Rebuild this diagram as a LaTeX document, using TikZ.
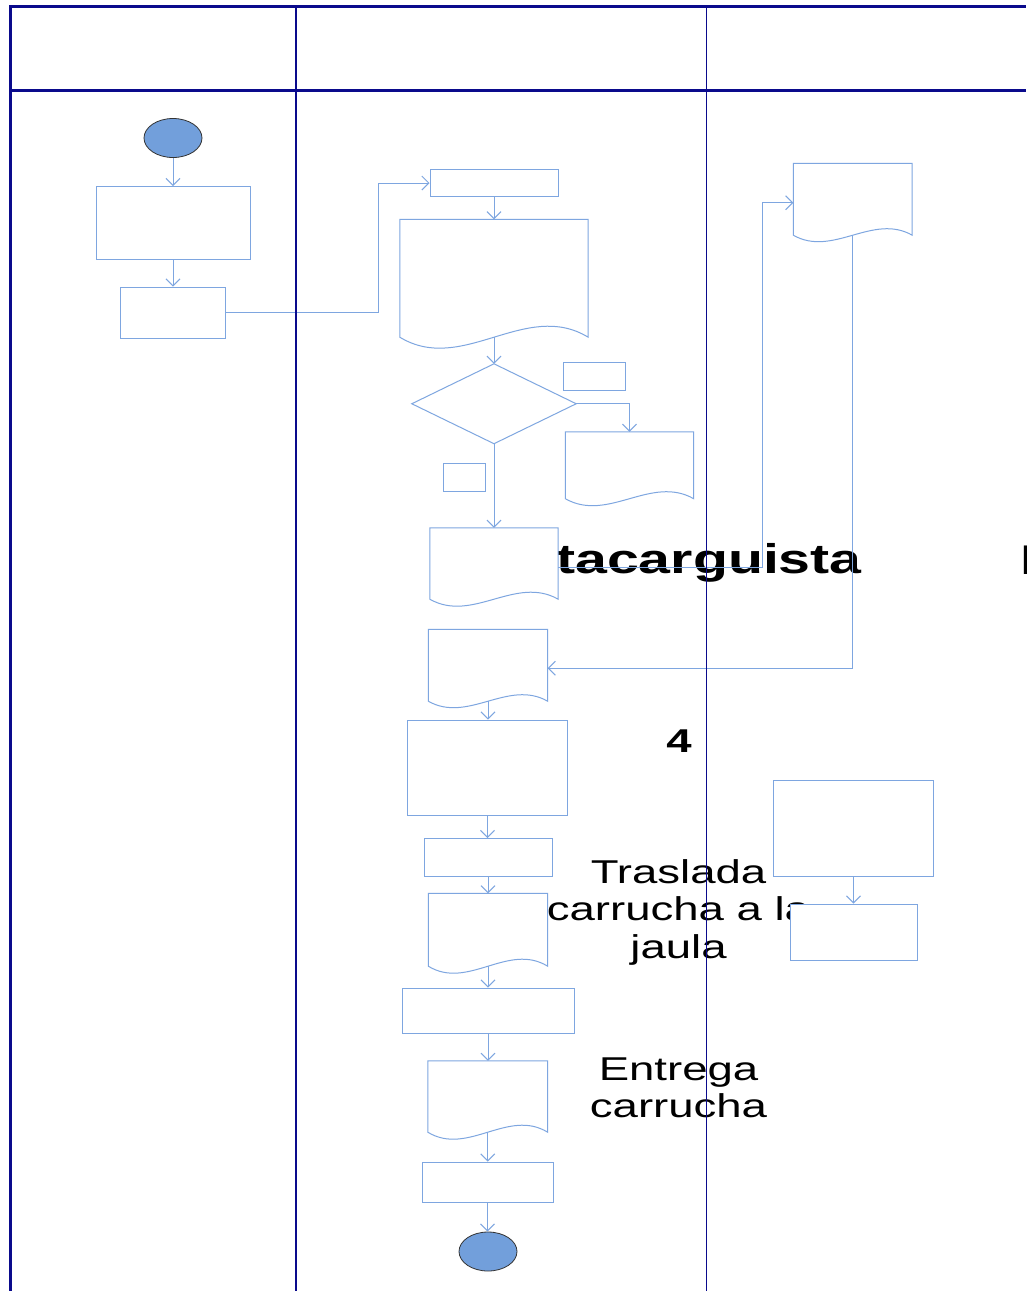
\documentclass[tikz,border=0pt]{standalone}
\usepackage{fontspec}
\setmainfont{Liberation Sans}
\usetikzlibrary{arrows.meta, shapes.geometric, fit, calc}
\definecolor{framec}{RGB}{10,10,140}
\definecolor{shp}{RGB}{126,166,224}
\definecolor{termc}{RGB}{114,159,219}
\tikzset{
  shapeline/.style={draw=shp, line width=1pt, fill=white},
  conn/.style={draw=shp, line width=1pt, -{Straight Barb[length=7pt,width=14pt]}},
  laneline/.style={draw=framec, line width=1.4pt},
  borderline/.style={draw=framec, line width=3pt, line join=miter},
  terminal/.style={ellipse, draw=black!80, line width=0.8pt, fill=termc, minimum width=58pt, minimum height=39pt, inner sep=0pt},
  txt/.style={inner sep=0pt},
  bigbold/.style={font=\fontsize{41.5}{45}\selectfont\bfseries},
  mid/.style={font=\fontsize{33}{37.5}\selectfont},
}
\newcommand\hs[1]{\scalebox{1.38}[1]{#1}}
\newcommand\boxnode[5]{%
  \coordinate (#1-a) at (#2,#3);
  \coordinate (#1-b) at (#4,#5);
  \node[fit=(#1-a)(#1-b), inner sep=0pt, shapeline] (#1) {};
}
\newcommand\docnode[6]{%
  \coordinate (#1-a) at (#2,#3);
  \coordinate (#1-b) at (#4,#5);
  \node[fit=(#1-a)(#1-b), inner sep=0pt] (#1) {};
  \pgfmathsetmacro\dw{(#4-#2)/3}%
  \pgfmathsetmacro\dk{3.46*#6}%
  \path[shapeline] (#1.north west) -- (#1.north east) -- (#1.south east)
     .. controls +(-\dw,-\dk) and +(\dw,\dk) .. (#1.south west) -- cycle;
}
\newcommand\decnode[5]{%
  \coordinate (#1-a) at (#2,#3);
  \coordinate (#1-b) at (#4,#5);
  \node[fit=(#1-a)(#1-b), inner sep=0pt] (#1) {};
  \path[shapeline] (#1.north) -- (#1.east) -- (#1.south) -- (#1.west) -- cycle;
}
\begin{document}
\begin{tikzpicture}[x=1pt,y=-1pt]
\path[use as bounding box] (0,0) rectangle (1026,1291);
\clip (0,0) rectangle (1026,1291);
\fill[white] (0,0) rectangle (1026,1291);

% texts (under the shapes and lane lines)
\node[txt, bigbold, anchor=base west] (tmonta) at (556,573) {\hs{tacarguista}};
\node[txt, bigbold, anchor=base west] (tedge) at (1020,574) {\hs{B}};
\node[txt, mid, anchor=base] (tfour) at (679,752) {\hs{\bfseries 4}};
\node[txt, mid, anchor=base] (ttras) at (678.5,883) {\hs{\begin{tabular}[t]{@{}c@{}}Traslada\\carrucha a la\\jaula\end{tabular}}};
\node[txt, mid, anchor=base] (tentr) at (678.5,1080) {\hs{\begin{tabular}[t]{@{}c@{}}Entrega\\carrucha\end{tabular}}};

% left lane
\node[terminal] (start) at (173,138) {};
\boxnode{A}{96}{186.5}{250}{259}
\boxnode{B}{120.5}{287}{225.5}{338}

% middle lane
\boxnode{C}{430}{169.5}{558}{196.5}
\docnode{D}{400}{219.5}{588}{337}{11}
\decnode{E}{412}{364}{576}{443.5}
\boxnode{F1}{563.5}{362.5}{625.5}{390.5}
\boxnode{F2}{443.5}{463.5}{485}{491.5}
\docnode{H}{565.5}{432}{693.5}{498.5}{7}
\docnode{G}{430}{528}{558}{599}{7}
\docnode{K}{428.5}{629.5}{547.5}{701}{6.5}
\boxnode{L}{407.5}{720}{567.5}{815.5}
\boxnode{M}{424}{838.5}{552}{876}
\docnode{N}{428.5}{893.5}{547.5}{966}{7}
\boxnode{P}{402}{988}{574}{1033}
\docnode{Q}{428}{1061}{547.5}{1132}{7}
\boxnode{R}{422}{1162}{553}{1202}
\node[terminal] (end) at (488,1251.5) {};

% right lane
\docnode{J}{793.5}{163.5}{912}{235}{6.5}
\boxnode{S}{773.5}{780.5}{933.5}{876}
\boxnode{T}{790}{904}{917}{960}

% connectors
\draw[conn] (start.south) -- (start.south |- A.north);
\draw[conn] (A.south) -- (A.south |- B.north);
\draw[conn] (B.east) -- ++(152.5,0) |- (C.west);
\draw[conn] (C.south) -- (C.south |- D.north);
\draw[conn] (D.south) -- (D.south |- E.north);
\draw[conn] (E.east) -| (H.north);
\draw[conn] (E.south) -- (E.south |- G.north);
\draw[conn] ($(G.east)+(0,4)$) -- ++(204.5,0) |- ($(J.west)+(0,3.5)$);
\draw[conn] (J.south) |- ($(K.east)+(0,3)$);
\draw[conn] (K.south) -- (K.south |- L.north);
\draw[conn] (L.south) -- (L.south |- M.north);
\draw[conn] (M.south) -- (M.south |- N.north);
\draw[conn] (N.south) -- (N.south |- P.north);
\draw[conn] (P.south) -- (P.south |- Q.north);
\draw[conn] (Q.south) -- (Q.south |- R.north);
\draw[conn] (R.south) -- (R.south |- end.north);
\draw[conn] (S.south) -- (S.south |- T.north);

% lane frame
\draw[laneline] (296,6) -- (296,1291);
\draw[laneline, line width=1pt] (706,6) -- (706,1291);
\draw[borderline] (10,1291) -- (10,6) -- (1026,6);
\draw[borderline] (10,90) -- (1026,90);
\end{tikzpicture}
\end{document}
